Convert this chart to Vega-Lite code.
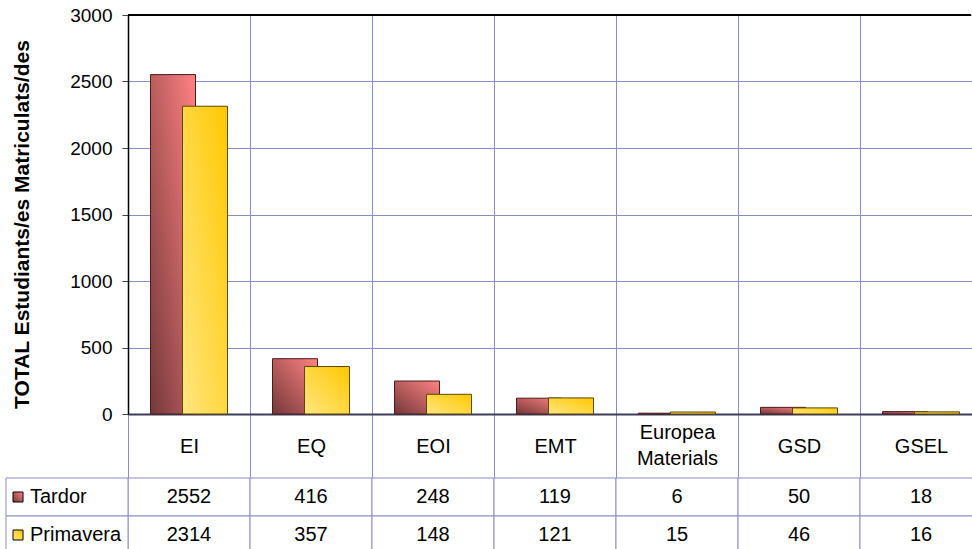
{
  "$schema": "https://vega.github.io/schema/vega-lite/v6.json",
  "background": "white",
  "padding": {"left": 5, "top": 6, "right": 0, "bottom": 0},
  "bounds": "flush",
  "spacing": 64,
  "config": {
    "view": {"stroke": null},
    "font": "Liberation Sans"
  },
  "datasets": {
    "main": [
      {"cat": "EI", "series": "Tardor", "value": 2552},
      {"cat": "EI", "series": "Primavera", "value": 2314},
      {"cat": "EQ", "series": "Tardor", "value": 416},
      {"cat": "EQ", "series": "Primavera", "value": 357},
      {"cat": "EOI", "series": "Tardor", "value": 248},
      {"cat": "EOI", "series": "Primavera", "value": 148},
      {"cat": "EMT", "series": "Tardor", "value": 119},
      {"cat": "EMT", "series": "Primavera", "value": 121},
      {"cat": "Europea Materials", "series": "Tardor", "value": 6},
      {"cat": "Europea Materials", "series": "Primavera", "value": 15},
      {"cat": "GSD", "series": "Tardor", "value": 50},
      {"cat": "GSD", "series": "Primavera", "value": 46},
      {"cat": "GSEL", "series": "Tardor", "value": 18},
      {"cat": "GSEL", "series": "Primavera", "value": 16}
    ],
    "legend": [
      {"series": "Tardor"},
      {"series": "Primavera"}
    ]
  },
  "vconcat": [
    {
      "width": 843,
      "height": 399,
      "data": {"name": "main"},
      "layer": [
        {
          "transform": [{"filter": "datum.series === 'Tardor'"}],
          "mark": {
            "type": "bar",
            "width": 45,
            "xOffset": -16,
            "fill": {"gradient": "linear", "x1": 0, "y1": 1, "x2": 1, "y2": 0,
              "stops": [{"offset": 0, "color": "#74383a"}, {"offset": 1, "color": "#ff8282"}]},
            "stroke": "#4a1c1c",
            "strokeWidth": 1
          },
          "encoding": {
            "x": {
              "field": "cat", "type": "nominal", "sort": null,
              "scale": {"domain": ["EI", "EQ", "EOI", "EMT", "Europea Materials", "GSD", "GSEL"], "range": [0, 854], "paddingInner": 0, "paddingOuter": 0},
              "axis": {
                "title": null, "labelAngle": 0, "labelFontSize": 20, "labelColor": "black",
                "labelBaseline": "middle",
                "labelPadding": {"condition": {"test": "datum.value === 'Europea Materials'", "value": -46}, "value": -32},
                "labelLineHeight": 26,
                "labelExpr": "split(datum.label, ' ')",
                "tickBand": "extent", "tickSize": 64, "tickColor": "#8c8cc4", "tickWidth": 1,
                "grid": true, "gridColor": "#8c8cc4", "gridWidth": 1,
                "domainColor": "#3c3c58", "domainWidth": 2, "labelOverlap": false
              }
            },
            "y": {
              "field": "value", "type": "quantitative",
              "scale": {"domain": [0, 3000], "nice": false},
              "axis": {
                "title": "TOTAL Estudiants/es Matriculats/des",
                "titleFontSize": 21, "titleFontWeight": "bold", "titleColor": "black", "titlePadding": 37, "titleY": 209,
                "values": [0, 500, 1000, 1500, 2000, 2500, 3000], "format": "d",
                "labelFontSize": 19, "labelColor": "black", "labelPadding": 10, "labelFlush": false, "labelOverlap": false,
                "tickSize": 6, "tickColor": "#444444",
                "domainColor": "black", "domainWidth": 1.5,
                "grid": true, "gridColor": "#8c8cc4", "gridWidth": 1
              }
            }
          }
        },
        {
          "transform": [{"filter": "datum.series === 'Primavera'"}],
          "mark": {
            "type": "bar",
            "width": 45,
            "xOffset": 16,
            "fill": {"gradient": "linear", "x1": 0, "y1": 1, "x2": 1, "y2": 0,
              "stops": [{"offset": 0, "color": "#ffe680"}, {"offset": 1, "color": "#ffc800"}]},
            "stroke": "#5a4808",
            "strokeWidth": 1
          },
          "encoding": {
            "x": {"field": "cat", "type": "nominal", "sort": null},
            "y": {"field": "value", "type": "quantitative"}
          }
        },
        {
          "mark": {"type": "rule", "color": "black", "strokeWidth": 1.5},
          "encoding": {"y": {"datum": 3000, "type": "quantitative"}}
        }
      ]
    },
    {
      "width": 843,
      "height": 76,
      "layer": [
        {
          "data": {"name": "main"},
          "mark": {"type": "rect", "fill": "white", "stroke": "#8c8cc4", "strokeWidth": 1},
          "encoding": {
            "x": {
              "field": "cat", "type": "nominal", "sort": null,
              "scale": {"domain": [" ", "EI", "EQ", "EOI", "EMT", "Europea Materials", "GSD", "GSEL"], "range": [-122, 854], "paddingInner": 0, "paddingOuter": 0},
              "axis": null
            },
            "y": {
              "field": "series", "type": "nominal", "sort": null,
              "scale": {"domain": ["Tardor", "Primavera"], "paddingInner": 0, "paddingOuter": 0},
              "axis": null
            }
          }
        },
        {
          "data": {"name": "legend"},
          "mark": {"type": "rect", "fill": "white", "stroke": "#8c8cc4", "strokeWidth": 1},
          "encoding": {
            "x": {"datum": " ", "type": "nominal"},
            "y": {"field": "series", "type": "nominal"}
          }
        },
        {
          "data": {"name": "main"},
          "mark": {"type": "text", "fontSize": 20, "color": "black", "baseline": "middle", "align": "center"},
          "encoding": {
            "x": {"field": "cat", "type": "nominal"},
            "y": {"field": "series", "type": "nominal"},
            "text": {"field": "value", "type": "quantitative"}
          }
        },
        {
          "data": {"name": "legend"},
          "mark": {"type": "text", "fontSize": 20, "color": "black", "baseline": "middle", "align": "left", "dx": 24},
          "encoding": {
            "x": {"datum": " ", "type": "nominal", "bandPosition": 0},
            "y": {"field": "series", "type": "nominal"},
            "text": {"field": "series", "type": "nominal"}
          }
        },
        {
          "data": {"name": "legend"},
          "transform": [{"filter": "datum.series === 'Tardor'"}],
          "mark": {"type": "point", "shape": "square", "size": 100, "filled": true, "opacity": 1, "xOffset": 12,
            "fill": {"gradient": "linear", "x1": 0, "y1": 1, "x2": 1, "y2": 0,
              "stops": [{"offset": 0, "color": "#74383a"}, {"offset": 1, "color": "#ff8282"}]},
            "stroke": "black", "strokeWidth": 1},
          "encoding": {
            "x": {"datum": " ", "type": "nominal", "bandPosition": 0},
            "y": {"field": "series", "type": "nominal"}
          }
        },
        {
          "data": {"name": "legend"},
          "transform": [{"filter": "datum.series === 'Primavera'"}],
          "mark": {"type": "point", "shape": "square", "size": 100, "filled": true, "opacity": 1, "xOffset": 12,
            "fill": {"gradient": "linear", "x1": 0, "y1": 1, "x2": 1, "y2": 0,
              "stops": [{"offset": 0, "color": "#ffe680"}, {"offset": 1, "color": "#ffc800"}]},
            "stroke": "black", "strokeWidth": 1},
          "encoding": {
            "x": {"datum": " ", "type": "nominal", "bandPosition": 0},
            "y": {"field": "series", "type": "nominal"}
          }
        }
      ]
    }
  ]
}
